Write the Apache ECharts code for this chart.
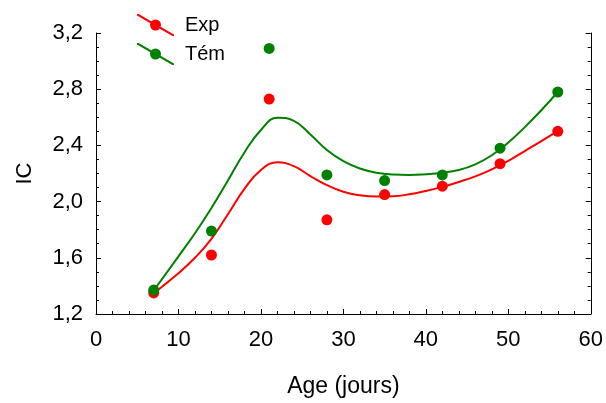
<!DOCTYPE html>
<html>
<head>
<meta charset="utf-8">
<script src="https://cdn.jsdelivr.net/npm/echarts@6/dist/echarts.min.js"></script>
<style>
html,body{margin:0;padding:0;background:#fff;}
#chart{width:606px;height:403px;}
</style>
</head>
<body>
<div id="chart"></div>
<script>
// Observed data points (days, IC)
const days = [7, 14, 21, 28, 35, 42, 49, 56];
const expValues = [1.35, 1.62, 2.73, 1.87, 2.05, 2.11, 2.27, 2.50];
const temValues = [1.37, 1.79, 3.09, 2.19, 2.15, 2.19, 2.38, 2.78];

// Fitted curves
const fitDays = [7, 10, 12, 14, 16, 18, 20, 22, 24, 26, 28, 30, 32, 34, 36, 38, 40, 42, 44, 46, 48, 50, 52, 54, 56];
const expFit = [1.348, 1.49, 1.60, 1.735, 1.91, 2.09, 2.225, 2.28, 2.252, 2.182, 2.117, 2.070, 2.045, 2.036, 2.038, 2.052, 2.076, 2.105, 2.140, 2.180, 2.230, 2.290, 2.360, 2.430, 2.504];
const temFit = [1.367, 1.61, 1.775, 1.955, 2.15, 2.35, 2.51, 2.597, 2.575, 2.478, 2.367, 2.288, 2.236, 2.206, 2.193, 2.190, 2.195, 2.205, 2.225, 2.265, 2.330, 2.420, 2.530, 2.650, 2.780];

const legendNames = ['Exp', 'Tém'];
const xTicks = { min: 0, max: 60, step: 10 };
const yTicks = { min: 1.2, max: 3.2, step: 0.4 };

const RED = '#ff0000';
const GREEN = '#008000';
const FONT = "'Liberation Sans', Arial, sans-serif";

const pair = (xs, ys) => xs.map((x, i) => [x, ys[i]]);
const fmt = v => v.toFixed(1).replace('.', ',');

const legendIcon = 'path://M0 0 L1.6 0 L37 20.6 L37 22 L35.4 22 L0 1.4 Z M24 11 A5.5 5.5 0 0 1 13 11 A5.5 5.5 0 0 1 24 11 Z';

const chart = echarts.init(document.getElementById('chart'), null, { renderer: 'canvas' });

const yAxisCommon = {
  type: 'value',
  min: yTicks.min,
  max: yTicks.max,
  interval: yTicks.step,
  splitLine: { show: false },
  axisLine: { show: true, onZero: false, lineStyle: { color: '#000', width: 1 } },
  axisTick: { show: true, inside: true, length: 5, lineStyle: { color: '#000' } },
  minorTick: { show: true, splitNumber: 4, length: 3, lineStyle: { color: '#000' } }
};

chart.setOption({
  animation: false,
  backgroundColor: '#fff',
  textStyle: { fontFamily: FONT },
  grid: { left: 96, right: 14, top: 33, bottom: 85.5, containLabel: false },
  legend: {
    data: legendNames,
    orient: 'vertical',
    left: 132,
    top: 9,
    itemWidth: 37,
    itemHeight: 22,
    itemGap: 7,
    icon: legendIcon,
    formatter: n => '{a|' + n + '}',
    textStyle: {
      fontFamily: FONT, fontSize: 20, color: '#000',
      rich: { a: { fontFamily: FONT, fontSize: 20, color: '#000', padding: [0, 0, 0, 6] } }
    }
  },
  xAxis: {
    type: 'value',
    min: xTicks.min,
    max: xTicks.max,
    interval: xTicks.step,
    name: 'Age (jours)',
    nameLocation: 'middle',
    nameGap: 61,
    nameTextStyle: { fontFamily: FONT, fontSize: 23, color: '#000' },
    splitLine: { show: false },
    axisLine: { show: true, onZero: false, lineStyle: { color: '#000', width: 1 } },
    axisTick: { show: true, inside: true, length: 5, lineStyle: { color: '#000' } },
    minorTick: { show: true, splitNumber: 5, length: 3, lineStyle: { color: '#000' } },
    axisLabel: { fontFamily: FONT, fontSize: 22, color: '#000', margin: 15 }
  },
  yAxis: [
    Object.assign({}, yAxisCommon, {
      position: 'left',
      name: 'IC',
      nameLocation: 'middle',
      nameGap: 60,
      nameRotate: 90,
      nameTextStyle: { fontFamily: FONT, fontSize: 22, color: '#000' },
      axisLabel: { fontFamily: FONT, fontSize: 22, color: '#000', margin: 13, formatter: fmt }
    }),
    Object.assign({}, yAxisCommon, {
      position: 'right',
      axisLabel: { show: false }
    })
  ],
  series: [
    {
      name: 'Exp', type: 'line', data: pair(fitDays, expFit), smooth: 0.45,
      showSymbol: false, symbol: 'none',
      lineStyle: { color: RED, width: 2 }, itemStyle: { color: RED }, z: 2
    },
    {
      name: 'Tém', type: 'line', data: pair(fitDays, temFit), smooth: 0.45,
      showSymbol: false, symbol: 'none',
      lineStyle: { color: GREEN, width: 2 }, itemStyle: { color: GREEN }, z: 2
    },
    {
      name: 'Exp', type: 'scatter', data: pair(days, expValues), symbolSize: 11,
      itemStyle: { color: RED, opacity: 1 }, z: 3
    },
    {
      name: 'Tém', type: 'scatter', data: pair(days, temValues), symbolSize: 11,
      itemStyle: { color: GREEN, opacity: 1 }, z: 4
    }
  ]
});
</script>
</body>
</html>
